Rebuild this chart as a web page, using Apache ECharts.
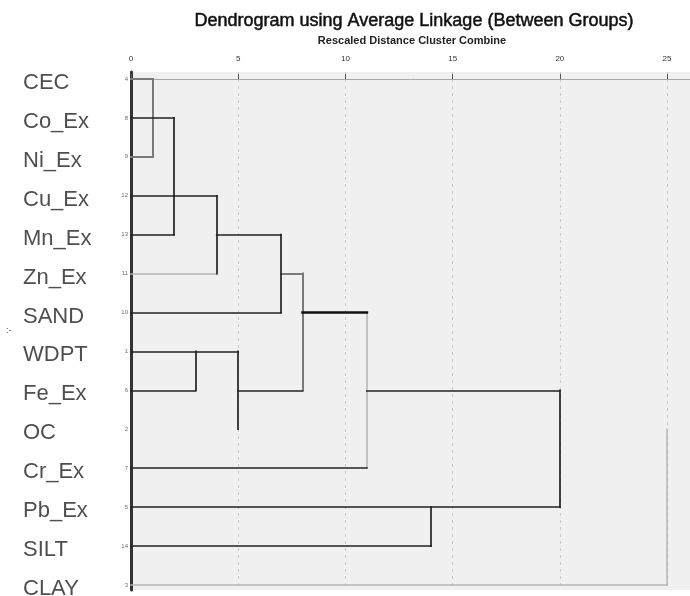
<!DOCTYPE html>
<html>
<head>
<meta charset="utf-8">
<script src="https://cdn.jsdelivr.net/npm/echarts@6/dist/echarts.min.js"></script>
<style>html,body{margin:0;padding:0;background:#fff;}#c{width:690px;height:596px;}</style>
</head>
<body>
<div id="c"></div>
<script>
// Leaf labels (top to bottom) and SPSS case numbers
const leafLabels = ['CEC','Co_Ex','Ni_Ex','Cu_Ex','Mn_Ex','Zn_Ex','SAND','WDPT','Fe_Ex','OC','Cr_Ex','Pb_Ex','SILT','CLAY'];
const caseNumbers = ['4','8','9','12','13','11','10','1','6','2','7','5','14','3'];
const distanceTicks = [0,5,10,15,20,25];

// Dendrogram links: [distance1, row1, distance2, row2]
const darkLinks = [
  [0,1,2,1],[2,1,2,4],[0,4,2,4],
  [0,3,4,3],[4,3,4,5],
  [4,4,7,4],[7,4,7,6],[0,6,7,6],
  [0,7,5,7],[0,8,3,8],[3,7,3,8],[5,7,5,9],[5,8,8,8],
  [0,10,11,10],[11,8,20,8],[20,8,20,11],[0,11,20,11],
  [0,12,14,12],[14,11,14,12]
];
const greyLinks = [[0,0,1,0],[1,0,1,2],[0,2,1,2],[7,5,8,5],[8,5,8,8]];
const boldLinks = [[8,6,11,6]];
const faintLinks = [[0,5,4,5],[11,6,11,10],[25,9,25,13],[0,13,25,13]];

const toLines = arr => arr.map(s => ({coords: [[s[0], s[1]], [s[2], s[3]]]}));
const mkLines = (arr, color, width) => ({
  type: 'lines', coordinateSystem: 'cartesian2d', polyline: false, silent: true,
  lineStyle: {color: color, width: width, opacity: 1, cap: 'square'},
  data: toLines(arr), z: 3
});

const chart = echarts.init(document.getElementById('c'), null, {renderer: 'canvas'});
chart.setOption({
  animation: false,
  backgroundColor: '#ffffff',
  textStyle: {fontFamily: 'Liberation Sans, Arial, sans-serif'},
  title: [{
    text: 'Dendrogram using Average Linkage (Between Groups)',
    left: 414, top: 12, textAlign: 'center', padding: 0,
    textStyle: {fontSize: 18, fontWeight: 'normal', color: '#111', textBorderColor: '#111', textBorderWidth: 0.5, fontFamily: 'Liberation Sans, Arial, sans-serif'}
  },{
    text: 'Rescaled Distance Cluster Combine',
    left: 412, top: 35, textAlign: 'center', padding: 0,
    textStyle: {fontSize: 11, fontWeight: 'bold', color: '#222', fontFamily: 'Liberation Sans, Arial, sans-serif'}
  }],
  graphic: [
    {type: 'rect', shape: {x: 131, y: 72, width: 559, height: 518}, style: {fill: '#f0f0f0'}, z: -10, silent: true},
    {type: 'text', left: 6, top: 326, style: {text: ':-', fontSize: 9, fill: '#555', font: '9px Liberation Sans'}, silent: true}
  ],
  grid: {left: 131, right: 0, top: 72, bottom: 6, containLabel: false},
  xAxis: {
    type: 'value', position: 'top', min: 0, max: 26.07, interval: 5,
    axisLine: {show: true, lineStyle: {color: '#a8a8a8', width: 1}},
    axisTick: {show: true, length: 5, lineStyle: {color: '#555', width: 1}},
    axisLabel: {
      show: true, fontSize: 8, color: '#333', margin: 9, showMaxLabel: false,
      formatter: v => distanceTicks.indexOf(v) >= 0 ? String(v) : ''
    },
    splitLine: {show: true, lineStyle: {color: '#c8c8c8', width: 1, type: [3, 4]}}
  },
  yAxis: {
    type: 'value', inverse: true, min: -0.18, max: 13.13,
    axisLine: {show: true, lineStyle: {color: '#333', width: 3}},
    axisTick: {show: false}, axisLabel: {show: false}, splitLine: {show: false}
  },
  series: [
    mkLines(faintLinks, '#b4b4b4', 1.5),
    mkLines(greyLinks, '#7a7a7a', 2),
    mkLines(darkLinks, '#222222', 1.7),
    mkLines(boldLinks, '#111111', 2.6),
    {
      type: 'scatter', silent: true, symbolSize: 0, z: 5,
      data: leafLabels.map((n, i) => [0, i]),
      label: {
        show: true, position: 'left', distance: 108, align: 'left', verticalAlign: 'middle',
        offset: [0, 4], fontSize: 22, color: '#222', fontFamily: 'Liberation Sans, Arial, sans-serif',
        formatter: p => leafLabels[p.dataIndex]
      }
    },
    {
      type: 'scatter', silent: true, symbolSize: 0, z: 5,
      data: caseNumbers.map((n, i) => [0, i]),
      label: {
        show: true, position: 'left', distance: 3, verticalAlign: 'middle',
        fontSize: 6, color: '#444', formatter: p => caseNumbers[p.dataIndex]
      }
    }
  ]
});
</script>
</body>
</html>
